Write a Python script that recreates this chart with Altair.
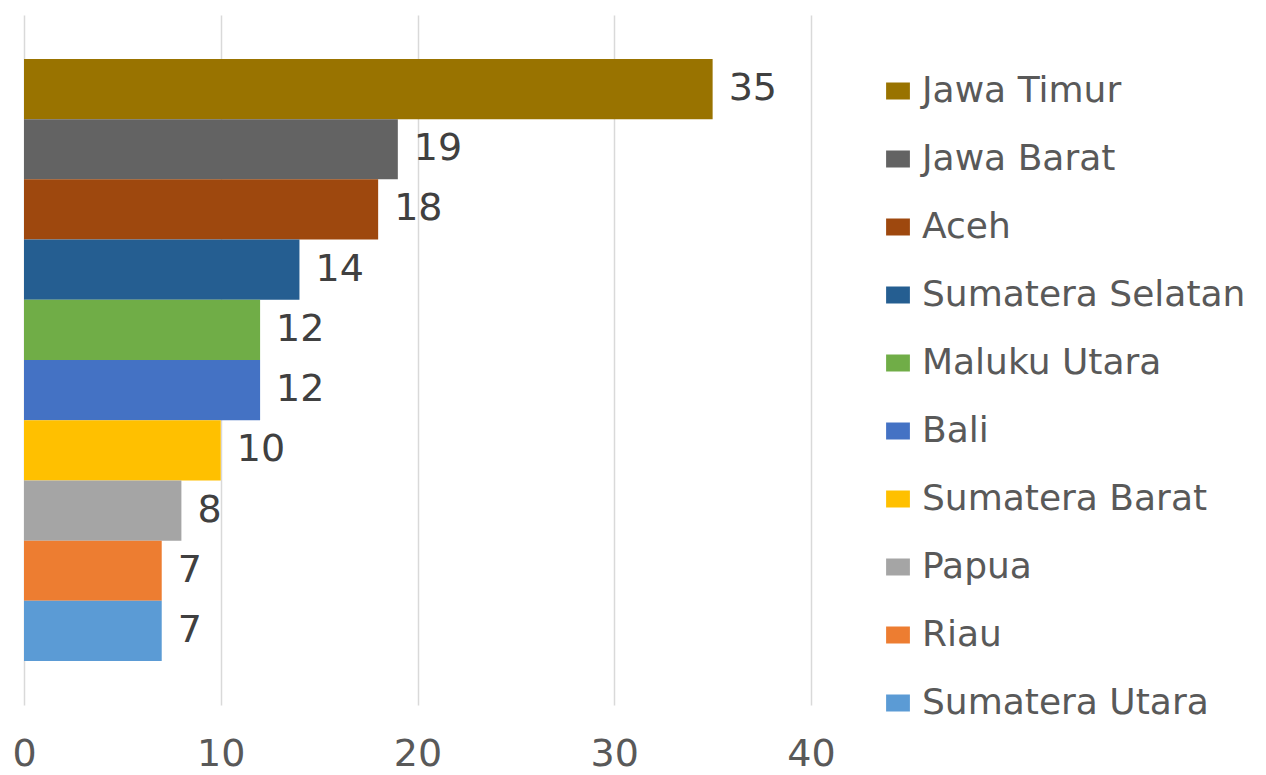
import altair as alt
import pandas as pd

regions = ["Jawa Timur", "Jawa Barat", "Aceh", "Sumatera Selatan", "Maluku Utara",
           "Bali", "Sumatera Barat", "Papua", "Riau", "Sumatera Utara"]
values = [35, 19, 18, 14, 12, 12, 10, 8, 7, 7]
colors = ["#997300", "#636363", "#9E480E", "#255E91", "#70AD47",
          "#4472C4", "#FFC000", "#A5A5A5", "#ED7D31", "#5B9BD5"]
ticks = [0, 10, 20, 30, 40]

df = pd.DataFrame({"region": regions, "value": values})

FONT = "DejaVu Sans"

y_enc = alt.Y("region:N", sort=regions, axis=None,
              scale=alt.Scale(paddingInner=0, paddingOuter=0.73))
x_enc = alt.X("value:Q", title=None,
              scale=alt.Scale(domain=[0, 40], nice=False),
              axis=alt.Axis(values=ticks, grid=True, gridColor="#d9d9d9", gridWidth=1.5,
                            domain=False, ticks=False, labelFontSize=38,
                            labelColor="#595959", labelFont=FONT, labelPadding=30,
                            labelFlush=False))

bars = alt.Chart(df).mark_bar().encode(
    x=x_enc,
    y=y_enc,
    color=alt.Color("region:N", sort=regions,
                    scale=alt.Scale(domain=regions, range=colors),
                    legend=alt.Legend(title=None, orient="none", legendX=856, legendY=58,
                                      symbolType="M-1.4,-1L1.4,-1L1.4,1L-1.4,1Z",
                                      symbolSize=289, symbolStrokeWidth=0,
                                      labelFontSize=36, labelFont=FONT, labelColor="#595959",
                                      labelOffset=6, rowPadding=32, padding=0,
                                      labelLimit=400)),
)

labels = alt.Chart(df).mark_text(align="left", baseline="middle", dx=16,
                                 fontSize=38, font=FONT, color="#404040").encode(
    x="value:Q",
    y=alt.Y("region:N", sort=regions),
    text="value:Q",
)

chart = (bars + labels).properties(
    width=787, height=690,
    padding={"left": 3, "top": 7, "right": 0, "bottom": 0},
    background="white",
).configure_view(stroke=None)

chart.save("out.html", embed_options={"renderer": "svg", "actions": False})
